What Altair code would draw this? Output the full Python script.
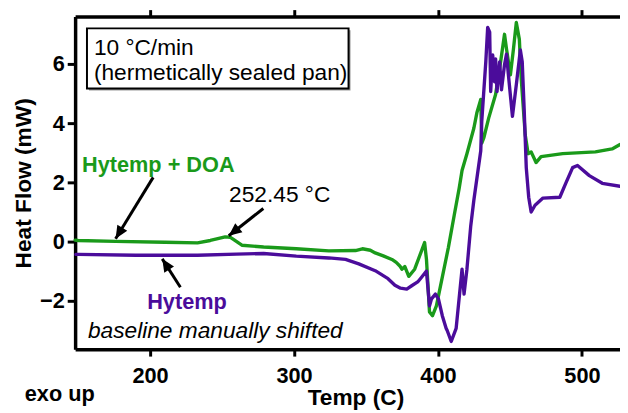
import altair as alt
import pandas as pd

# Hytemp + DOA (green)
green_T = [148.0, 150.1, 176.1, 210.4, 233.0, 241.9, 252.2, 255.6, 263.8, 278.9,
           301.6, 324.2, 342.7, 347.5, 353.0, 356.4, 362.0, 368.0, 371.0, 373.5,
           374.9, 377.0, 379.7, 383.8, 390.7, 392.0, 394.1, 396.2, 398.9, 403.0,
           407.2, 411.3, 414.7, 416.7, 420.1, 424.9, 427.0, 429.7, 430.4, 431.8,
           435.2, 440.0, 443.5, 446.2, 447.6, 450.3, 452.4, 454.4, 456.5, 457.8,
           460.6, 462.6, 464.7, 468.1, 471.6, 486.6, 509.3, 520.9, 526.4]
green_Y = [0.05, 0.04, 0.01, -0.02, -0.04, 0.04, 0.16, 0.15, -0.12, -0.18,
           -0.24, -0.31, -0.30, -0.24, -0.29, -0.38, -0.48, -0.60, -0.70, -0.82,
           -0.93, -0.84, -1.17, -0.93, -0.03, -0.60, -2.37, -2.50, -2.17, -1.20,
           -0.20, 0.90, 1.80, 2.40, 2.97, 3.83, 4.35, 4.80, 3.33, 3.50,
           4.17, 4.97, 6.07, 7.00, 6.50, 5.63, 6.50, 7.40, 6.83, 5.50,
           3.60, 2.97, 3.03, 2.67, 2.87, 2.97, 3.03, 3.13, 3.28]

# Hytemp (purple, baseline manually shifted)
purple_T = [148.5, 150.1, 190.0, 233.0, 260.0, 278.9, 301.6, 324.2, 335.8, 345.0,
            356.4, 365.3, 370.1, 374.0, 378.3, 382.0, 385.9, 388.6, 392.0, 394.1,
            395.5, 398.2, 400.3, 403.0, 405.7, 406.4, 409.2, 412.6, 416.7, 418.1,
            420.1, 422.7, 424.9, 429.7, 430.4, 433.2, 434.5, 435.9, 436.6, 438.0,
            439.3, 440.0, 441.0, 442.8, 444.1, 446.2, 447.6, 448.9, 451.7, 454.4,
            457.2, 458.5, 459.9, 461.3, 463.0, 464.7, 467.4, 472.9, 484.6, 488.7,
            493.5, 496.9, 505.1, 514.1, 526.4]
purple_Y = [-0.43, -0.43, -0.46, -0.46, -0.42, -0.40, -0.49, -0.55, -0.60, -0.75,
            -0.98, -1.25, -1.47, -1.57, -1.60, -1.48, -1.36, -1.20, -0.99, -2.17,
            -1.93, -1.77, -1.93, -2.50, -2.93, -3.00, -3.37, -2.93, -0.93, -1.77,
            -0.93, 0.51, 1.40, 3.07, 4.07, 6.07, 7.23, 7.07, 5.07, 6.30,
            5.40, 6.17, 5.07, 6.07, 5.13, 5.97, 6.33, 5.63, 4.23, 5.30,
            6.47, 6.07, 4.40, 2.50, 1.50, 1.00, 1.23, 1.47, 1.50, 1.97,
            2.50, 2.57, 2.23, 1.97, 1.87]

series_names = ["Hytemp + DOA", "Hytemp"]
series_colors = ["#1a9a1a", "#4b0c9b"]

x_ticks = [200, 300, 400, 500]
y_ticks = [-2, 0, 2, 4, 6]

# arrows: start (T, mW) -> tip (T, mW)
arrow_x0 = [202.2, 278.7, 221.1]
arrow_y0 = [2.17, 1.12, -1.54]
arrow_x1 = [176.1, 254.7, 208.5]
arrow_y1 = [0.10, 0.20, -0.58]
arrow_angle = [211.5, 231.6, 327.6]

FONT = "Liberation Sans"

df = pd.concat([
    pd.DataFrame({"T": green_T, "HF": green_Y, "s": series_names[0], "o": range(len(green_T))}),
    pd.DataFrame({"T": purple_T, "HF": purple_Y, "s": series_names[1], "o": range(len(purple_T))}),
])
arr = pd.DataFrame({"x0": arrow_x0, "y0": arrow_y0, "x1": arrow_x1, "y1": arrow_y1, "a": arrow_angle})

xs = alt.Scale(domain=[148, 526.4], nice=False, zero=False)
ys = alt.Scale(domain=[-3.63, 7.6], nice=False, zero=False)

x_bottom = alt.Axis(values=x_ticks, orient="bottom", title="Temp (C)", grid=False,
                    tickSize=7, tickWidth=3, tickColor="black", domainWidth=3.5, domainColor="black",
                    labelFont=FONT, labelFontSize=22, labelFontWeight="bold", labelPadding=10,
                    labelColor="black", labelFlush=False,
                    titleFont=FONT, titleFontSize=23, titleFontWeight="bold", titleColor="black",
                    titleX=284, titleY=56, titleBaseline="alphabetic", titleAlign="center")
x_top = alt.Axis(values=x_ticks, orient="top", title=None, labels=False, grid=False,
                 tickSize=7, tickWidth=3, tickColor="black", domainWidth=3.5, domainColor="black")
y_left = alt.Axis(values=y_ticks, orient="left", title="Heat Flow (mW)", grid=False,
                  tickSize=8, tickWidth=3, tickColor="black", domainWidth=3.5, domainColor="black",
                  labelFont=FONT, labelFontSize=22, labelFontWeight="bold", labelPadding=3,
                  labelColor="black", labelFlush=False,
                  titleFont=FONT, titleFontSize=23, titleFontWeight="bold", titleColor="black",
                  titleX=-45, titleY=168.5, titleAngle=270, titleBaseline="alphabetic",
                  titleAlign="center")

lines = alt.Chart(df).mark_line(strokeWidth=3.4, strokeJoin="round", strokeCap="round").encode(
    x=alt.X("T:Q", scale=xs, axis=x_bottom),
    y=alt.Y("HF:Q", scale=ys, axis=y_left),
    color=alt.Color("s:N", scale=alt.Scale(domain=series_names, range=series_colors), legend=None),
    order="o:Q",
    detail="s:N",
)

top_axis = alt.Chart(df).mark_line(opacity=0).encode(
    x=alt.X("T:Q", scale=xs, axis=x_top),
    y=alt.Y("HF:Q", scale=ys),
    detail="s:N",
)

arrow_lines = alt.Chart(arr).mark_rule(color="black", strokeWidth=3).encode(
    x=alt.X("x0:Q", scale=xs, axis=None), y=alt.Y("y0:Q", scale=ys),
    x2="x1:Q", y2="y1:Q")
arrow_heads = alt.Chart(arr).mark_point(
    shape="M0,0L-0.45,1L0.45,1Z", filled=True, color="black", opacity=1, size=676
).encode(x=alt.X("x1:Q", scale=xs, axis=None), y=alt.Y("y1:Q", scale=ys),
         angle=alt.Angle("a:Q", scale=None))


def txt(label, px, py, color="black", weight="normal", style="normal", size=23):
    return alt.Chart(pd.DataFrame({"t": [label]})).mark_text(
        align="left", baseline="alphabetic", font=FONT, fontSize=size,
        fontWeight=weight, fontStyle=style, color=color
    ).encode(x=alt.value(px), y=alt.value(py), text="t:N")


def rect(x1, y1, x2, y2, fill, stroke=None, sw=0):
    kw = dict(fill=fill)
    if stroke:
        kw.update(stroke=stroke, strokeWidth=sw)
    return alt.Chart(pd.DataFrame({"a": [0]})).mark_rect(**kw).encode(
        x=alt.value(x1), x2=alt.value(x2), y=alt.value(y1), y2=alt.value(y2))


box_shadow = rect(14, 14, 279, 75, "#999999")
box = rect(12, 12, 277, 73, "white", "black", 2)

texts = [
    txt("10 °C/min", 19, 39),
    txt("(hermetically sealed pan)", 19, 64),
    txt("Hytemp + DOA", 7, 157, color=series_colors[0], weight="bold", size=22),
    txt("252.45 °C", 156, 188),
    txt("Hytemp", 73, 296, color=series_colors[1], weight="bold", size=22),
    txt("baseline manually shifted", 13, 326, style="italic"),
    txt("exo up", -51, 389, weight="bold", size=22),
]

chart = alt.layer(top_axis, box_shadow, box, lines, arrow_lines, arrow_heads, *texts).resolve_axis(
    x="independent"
).properties(
    width=552, height=337,
    autosize=alt.AutoSizeParams(type="none"),
    padding={"left": 68, "top": 6, "right": 0, "bottom": 62},
).configure_view(stroke=None).configure(background="white")

chart.save("out.html", embed_options={"renderer": "svg", "actions": False})
